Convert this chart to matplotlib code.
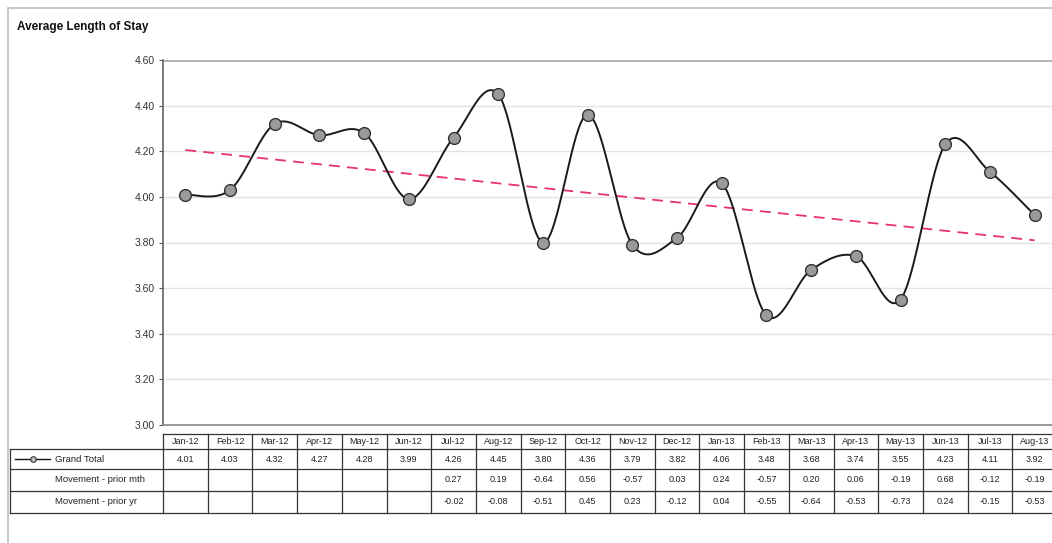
import numpy as np
import matplotlib
matplotlib.use("Agg")
import matplotlib.pyplot as plt
from matplotlib.lines import Line2D
from matplotlib.patches import Rectangle
from matplotlib import font_manager

# ---- data ----
months = ["Jan-12", "Feb-12", "Mar-12", "Apr-12", "May-12", "Jun-12", "Jul-12",
          "Aug-12", "Sep-12", "Oct-12", "Nov-12", "Dec-12", "Jan-13", "Feb-13",
          "Mar-13", "Apr-13", "May-13", "Jun-13", "Jul-13", "Aug-13"]
grand_total = [4.01, 4.03, 4.32, 4.27, 4.28, 3.99, 4.26, 4.45, 3.80, 4.36,
               3.79, 3.82, 4.06, 3.48, 3.68, 3.74, 3.55, 4.23, 4.11, 3.92]
move_prior_month = [None] * 6 + [0.27, 0.19, -0.64, 0.56, -0.57, 0.03, 0.24,
                                 -0.57, 0.20, 0.06, -0.19, 0.68, -0.12, -0.19]
move_prior_year = [None] * 6 + [-0.02, -0.08, -0.51, 0.45, 0.23, -0.12, 0.04,
                                -0.55, -0.64, -0.53, -0.73, 0.24, -0.15, -0.53]
row_labels = ["Grand Total", "Movement - prior mth", "Movement - prior yr"]
y_ticks = [3.00, 3.20, 3.40, 3.60, 3.80, 4.00, 4.20, 4.40, 4.60]

# ---- fonts ----
available = {f.name for f in font_manager.fontManager.ttflist}
narrow = "Liberation Sans Narrow" if "Liberation Sans Narrow" in available else "Liberation Sans"
plt.rcParams["font.family"] = [narrow, "DejaVu Sans"]

W, H = 1052, 543
fig = plt.figure(figsize=(W / 100, H / 100), dpi=100)
fig.patch.set_facecolor("white")


def fx(px):
    return px / W


def fy(py):
    return 1 - py / H


# outer chart frame
fig.add_artist(Rectangle((fx(8), fy(560)), fx(1060) - fx(8), fy(8) - fy(560),
                         transform=fig.transFigure, fill=False,
                         edgecolor="#bdbdbd", linewidth=1.2))
fig.text(fx(17), fy(27), "Average Length of Stay", fontsize=8.5, fontweight="bold",
         color="#111111", va="center", ha="left")

# ---- main plot ----
left_px, right_px, top_px, bot_px = 163, 1057, 60, 425
col_w = (right_px - left_px) / len(months)
ax = fig.add_axes([fx(left_px), fy(bot_px), fx(right_px) - fx(left_px),
                   fy(top_px) - fy(bot_px)])
n = len(months)
x = np.arange(n)
ax.set_xlim(-0.5, n - 0.5)
ax.set_ylim(3.0, 4.6)
ax.set_yticks(y_ticks)
ax.set_yticklabels([f"{v:.2f}" for v in y_ticks], fontsize=7.5, color="#333333")
ax.set_xticks([])
ax.tick_params(axis="y", length=3, width=0.8, color="#555555", pad=3)
ax.grid(axis="y", color="#e2e2e2", linewidth=1.0)
ax.set_axisbelow(True)
for side in ("top", "right"):
    ax.spines[side].set_visible(False)
ax.spines["left"].set_color("#666666")
ax.spines["left"].set_linewidth(1.2)
ax.spines["bottom"].set_color("#888888")
ax.spines["bottom"].set_linewidth(1.2)
ax.axhline(4.6, color="#b0b0b0", linewidth=2.0, zorder=1)

# smoothed line through the points (cubic Bezier with Catmull-Rom tangents)
y = np.asarray(grand_total, dtype=float)
px_pts = np.column_stack([x, y])
seg_pts = []
for i in range(n - 1):
    p0 = px_pts[max(i - 1, 0)]
    p1 = px_pts[i]
    p2 = px_pts[i + 1]
    p3 = px_pts[min(i + 2, n - 1)]
    c1 = p1 + (p2 - p0) / 6.0
    c2 = p2 - (p3 - p1) / 6.0
    t = np.linspace(0, 1, 40)[:, None]
    b = ((1 - t) ** 3) * p1 + 3 * ((1 - t) ** 2) * t * c1 + 3 * (1 - t) * t ** 2 * c2 + t ** 3 * p2
    seg_pts.append(b if i == 0 else b[1:])
curve = np.vstack(seg_pts)
ax.plot(curve[:, 0], curve[:, 1], color="#1a1a1a", linewidth=1.4, zorder=3)
ax.plot(x, y, linestyle="none", marker="o", markersize=8.5,
        markerfacecolor="#9a9a9a", markeredgecolor="#333333",
        markeredgewidth=1.0, zorder=4)

# linear trend
slope, intercept = np.polyfit(x, y, 1)
ax.plot(x, slope * x + intercept, color="#e8336b", linewidth=1.3,
        linestyle=(0, (6, 4)), zorder=2)

# ---- data table ----
tab_left = 10
row_edges_px = [434, 449, 469, 491, 513]
label_w = (left_px - tab_left) / col_w
tax = fig.add_axes([fx(tab_left), fy(row_edges_px[-1]), fx(right_px) - fx(tab_left),
                    fy(row_edges_px[0]) - fy(row_edges_px[-1])])
tax.set_xlim(-label_w, n)
tax.set_ylim(row_edges_px[-1], row_edges_px[0])
tax.axis("off")


def cx(px):
    # figure pixel column -> table column units
    return (px - left_px) / col_w


lc = "#333333"
lw = 0.9
tax.plot([0, n], [row_edges_px[0]] * 2, color=lc, lw=lw, clip_on=False)
for r in row_edges_px[1:]:
    tax.plot([-label_w, n], [r, r], color=lc, lw=lw, clip_on=False)
tax.plot([-label_w, -label_w], [row_edges_px[1], row_edges_px[-1]], color=lc, lw=lw, clip_on=False)
for c in range(n + 1):
    tax.plot([c, c], [row_edges_px[0], row_edges_px[-1]], color=lc, lw=lw, clip_on=False)

fs = 6.5
tc = "#222222"
for i, m in enumerate(months):
    yc = (row_edges_px[0] + row_edges_px[1]) / 2
    tax.text(i + 0.5, yc, m, ha="center", va="center", fontsize=fs, color=tc)

rows = [grand_total, move_prior_month, move_prior_year]
for r, vals in enumerate(rows):
    yc = (row_edges_px[r + 1] + row_edges_px[r + 2]) / 2
    for i, v in enumerate(vals):
        if v is not None:
            tax.text(i + 0.5, yc, f"{v:.2f}", ha="center", va="center",
                     fontsize=fs, color=tc)

# row labels, with the series key in front of the first one
yc0 = (row_edges_px[1] + row_edges_px[2]) / 2
tax.add_line(Line2D([cx(15), cx(50)], [yc0, yc0], color="#111111", lw=1.0))
tax.plot([cx(33)], [yc0], marker="o", markersize=4, markerfacecolor="#bdbdbd",
         markeredgecolor="#333333", markeredgewidth=0.8)
for r in range(3):
    yc = (row_edges_px[r + 1] + row_edges_px[r + 2]) / 2
    tax.text(cx(55), yc, row_labels[r], ha="left", va="center",
             fontsize=fs + 0.3, color=tc)

fig.savefig("out.png", dpi=100, facecolor="white")
